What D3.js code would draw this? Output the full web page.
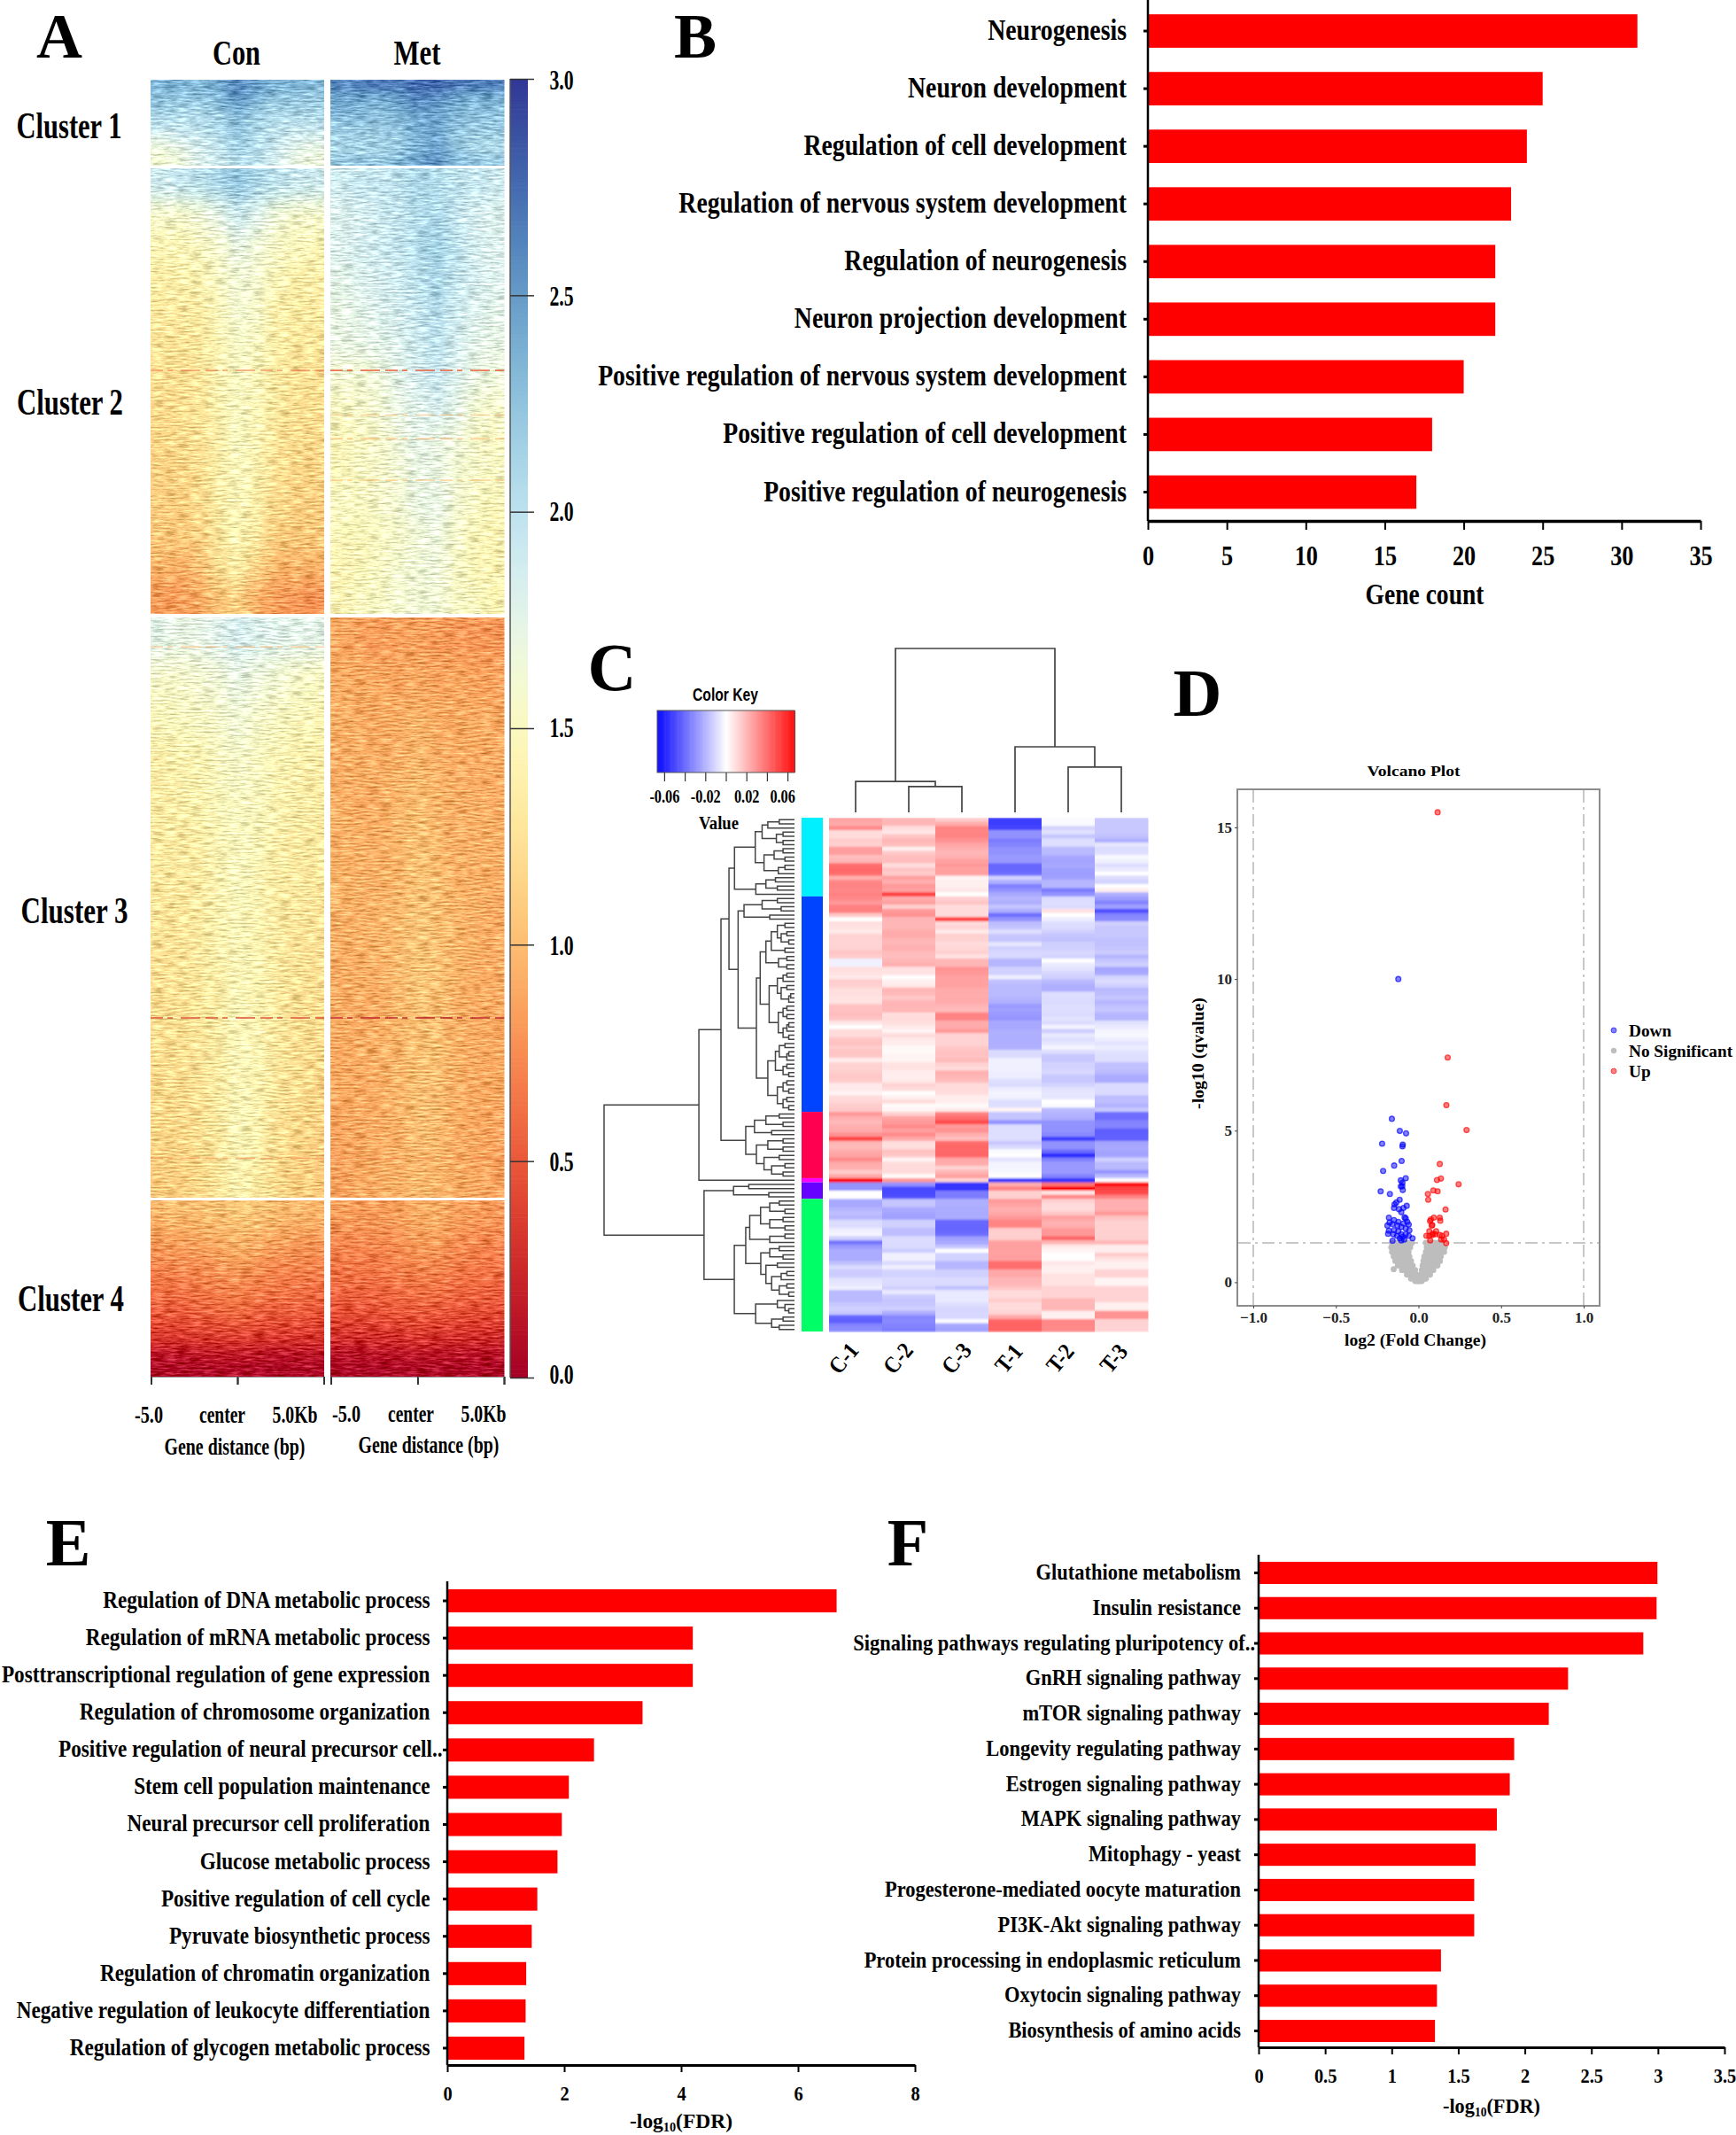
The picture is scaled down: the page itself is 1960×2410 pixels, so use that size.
<!DOCTYPE html>
<html><head><meta charset="utf-8">
<script src="https://cdn.jsdelivr.net/npm/d3@7"></script>
<style>html,body{margin:0;background:#fff}svg{display:block}</style></head>
<body><svg id="c" width="1960" height="2410" xmlns="http://www.w3.org/2000/svg"></svg>
<script>
// ---------- panel A values, read cluster by cluster (rows top to bottom, 9 bins across) ----------
const heatCon1=[[2.35,2.35,2.3,2.4,2.6,2.45,2.35,2.35,2.3],[2.25,2.25,2.25,2.3,2.55,2.4,2.25,2.25,2.2],[2.2,2.15,2.15,2.25,2.45,2.25,2.15,2.15,2.15],[2.05,2.05,2.05,2.1,2.3,2.15,2.05,2.05,2.05],[1.95,1.95,2,2.1,2.25,2.1,2,1.95,1.95],[1.75,1.85,1.9,2,2.2,2.05,1.95,1.85,1.8],[1.65,1.7,1.85,1.95,2.15,2.05,1.9,1.75,1.7],[1.6,1.65,1.8,1.9,2.05,2,1.85,1.7,1.65]];
const heatMet1=[[2.6,2.65,2.7,2.65,2.75,2.75,2.7,2.65,2.65],[2.45,2.45,2.45,2.5,2.65,2.6,2.45,2.4,2.4],[2.4,2.35,2.3,2.4,2.55,2.5,2.35,2.3,2.3],[2.3,2.3,2.25,2.3,2.45,2.45,2.3,2.25,2.25],[2.2,2.2,2.2,2.25,2.4,2.45,2.25,2.2,2.2],[2.15,2.15,2.15,2.2,2.35,2.45,2.2,2.15,2.1],[2.1,2.1,2.1,2.2,2.35,2.5,2.25,2.1,2.05],[2.2,2.25,2.2,2.3,2.45,2.55,2.3,2.25,2.2]];
const heatCon2=[[1.9,1.95,2,2.1,2.25,2.1,2,1.95,1.9],[1.55,1.55,1.6,1.72,1.9,1.78,1.62,1.55,1.55],[1.42,1.42,1.48,1.55,1.7,1.62,1.52,1.48,1.42],[1.35,1.35,1.4,1.5,1.62,1.58,1.45,1.35,1.35],[1.28,1.3,1.32,1.45,1.6,1.55,1.35,1.32,1.3],[1.25,1.24,1.28,1.4,1.55,1.5,1.35,1.28,1.28],[1.22,1.22,1.25,1.4,1.5,1.45,1.3,1.25,1.22],[1.18,1.2,1.24,1.38,1.5,1.45,1.3,1.22,1.2],[1.15,1.18,1.22,1.35,1.5,1.42,1.25,1.2,1.18],[1.12,1.14,1.2,1.34,1.48,1.4,1.22,1.15,1.14],[1.1,1.1,1.16,1.32,1.45,1.35,1.18,1.12,1.1],[1.06,1.06,1.1,1.28,1.42,1.3,1.1,1.08,1.06],[0.95,0.92,1,1.22,1.35,1.14,0.96,0.94,0.95],[0.82,0.82,0.88,1.02,1.12,0.92,0.82,0.8,0.78]];
const heatMet2=[[1.9,1.95,1.95,2,2.1,2.05,2,1.95,1.9],[1.8,1.85,1.9,1.95,2.05,2.1,1.95,1.85,1.8],[1.8,1.85,1.9,1.95,2.05,2.15,2,1.85,1.8],[1.75,1.8,1.85,1.9,2,2.1,1.95,1.85,1.8],[1.7,1.75,1.8,1.85,1.95,2.05,1.9,1.8,1.75],[1.7,1.72,1.75,1.8,1.9,2,1.85,1.75,1.72],[1.6,1.6,1.65,1.75,1.85,1.95,1.8,1.7,1.65],[1.5,1.55,1.6,1.7,1.78,1.85,1.75,1.6,1.55],[1.45,1.5,1.55,1.65,1.75,1.7,1.65,1.55,1.5],[1.45,1.5,1.55,1.6,1.7,1.7,1.6,1.55,1.5],[1.5,1.5,1.55,1.6,1.7,1.72,1.6,1.5,1.45],[1.45,1.45,1.5,1.55,1.62,1.68,1.55,1.45,1.42],[1.42,1.45,1.5,1.58,1.62,1.65,1.52,1.45,1.4],[1.42,1.48,1.52,1.58,1.62,1.62,1.52,1.48,1.42]];
const heatCon3=[[1.75,1.7,1.72,1.78,1.85,1.8,1.78,1.75,1.75],[1.55,1.55,1.58,1.62,1.7,1.65,1.6,1.55,1.5],[1.45,1.48,1.5,1.55,1.62,1.55,1.5,1.45,1.42],[1.35,1.38,1.4,1.48,1.55,1.5,1.42,1.38,1.35],[1.32,1.35,1.38,1.45,1.5,1.48,1.4,1.35,1.32],[1.3,1.3,1.32,1.42,1.48,1.45,1.36,1.3,1.3],[1.28,1.28,1.3,1.4,1.48,1.42,1.32,1.3,1.28],[1.25,1.25,1.3,1.38,1.45,1.4,1.32,1.25,1.25],[1.22,1.25,1.28,1.35,1.45,1.42,1.3,1.25,1.22],[1.2,1.22,1.26,1.32,1.45,1.4,1.3,1.22,1.2],[1.2,1.2,1.25,1.32,1.45,1.42,1.28,1.22,1.18],[1.18,1.18,1.22,1.3,1.45,1.4,1.25,1.2,1.15],[1.15,1.15,1.2,1.28,1.45,1.38,1.22,1.15,1.12],[1.08,1.1,1.15,1.25,1.4,1.32,1.18,1.1,1.08]];
const heatMet3=[[0.88,0.85,0.82,0.85,0.85,0.82,0.8,0.8,0.8],[0.9,0.88,0.88,0.86,0.88,0.85,0.88,0.85,0.85],[0.92,0.9,0.88,0.9,0.95,0.9,0.88,0.9,0.88],[0.9,0.92,0.9,0.92,0.98,0.92,0.9,0.9,0.9],[0.92,0.9,0.9,0.95,1,0.95,0.9,0.92,0.9],[0.92,0.92,0.92,0.95,1.02,0.98,0.92,0.92,0.92],[0.95,0.92,0.92,0.95,1.02,1,0.92,0.92,0.9],[0.92,0.92,0.95,0.98,1.05,1,0.95,0.92,0.9],[0.9,0.92,0.92,0.98,1.05,1.02,0.95,0.9,0.9],[0.9,0.9,0.9,0.95,1.02,1,0.92,0.9,0.88],[0.88,0.9,0.92,0.95,1,1.02,0.92,0.9,0.88],[0.88,0.88,0.9,0.95,1,1,0.92,0.88,0.88],[0.86,0.88,0.9,0.92,1,0.98,0.9,0.88,0.86],[0.85,0.88,0.9,0.92,0.98,0.95,0.9,0.88,0.85]];
const heatCon4=[[0.98,1,1,1.02,1.08,1.05,1,0.98,0.95],[0.92,0.94,0.95,0.98,1.02,1,0.95,0.92,0.9],[0.85,0.86,0.88,0.9,0.98,0.92,0.88,0.85,0.82],[0.78,0.8,0.82,0.85,0.92,0.85,0.8,0.78,0.76],[0.72,0.74,0.75,0.78,0.82,0.78,0.72,0.72,0.7],[0.65,0.66,0.7,0.72,0.75,0.7,0.68,0.65,0.65],[0.6,0.6,0.62,0.65,0.68,0.65,0.62,0.6,0.58],[0.52,0.52,0.55,0.58,0.6,0.55,0.52,0.52,0.5],[0.42,0.42,0.45,0.45,0.48,0.45,0.42,0.42,0.4],[0.32,0.3,0.32,0.34,0.34,0.32,0.3,0.3,0.3],[0.12,0.12,0.14,0.15,0.15,0.14,0.12,0.12,0.12],[0.05,0.05,0.05,0.06,0.06,0.05,0.05,0.05,0.05]];
const heatMet4=[[0.85,0.82,0.82,0.85,0.9,0.92,0.85,0.82,0.8],[0.8,0.8,0.8,0.82,0.88,0.9,0.82,0.8,0.78],[0.75,0.74,0.76,0.78,0.84,0.84,0.78,0.75,0.72],[0.7,0.7,0.7,0.74,0.78,0.78,0.72,0.7,0.68],[0.64,0.65,0.66,0.7,0.72,0.72,0.68,0.65,0.62],[0.6,0.6,0.6,0.64,0.66,0.66,0.62,0.6,0.58],[0.54,0.55,0.55,0.58,0.6,0.6,0.56,0.54,0.52],[0.46,0.46,0.48,0.5,0.52,0.5,0.48,0.46,0.44],[0.38,0.36,0.38,0.4,0.42,0.4,0.38,0.36,0.36],[0.26,0.25,0.26,0.28,0.3,0.28,0.26,0.25,0.24],[0.1,0.1,0.12,0.12,0.14,0.12,0.12,0.1,0.1],[0.04,0.04,0.04,0.05,0.05,0.05,0.04,0.04,0.04]];
// anomalous rows: [cluster index, sample index, row position, value]
const heatStreaks=[[1,0,6.35,0.6],[1,1,6.35,0.55],[1,1,7.75,0.95],[1,1,8.5,0.9],[1,1,9.8,1.0],[2,0,0.71,0.9],[2,1,0.71,0.65],[2,0,9.66,0.35],[2,1,9.66,0.1],[2,0,13.05,0.7],[2,1,13.05,0.65]];
const clusterNames=["Cluster 1","Cluster 2","Cluster 3","Cluster 4"];
const colorbarTicks=[0,0.5,1,1.5,2,2.5,3];

// ---------- panel B ----------
const bLabels=["Neurogenesis","Neuron development","Regulation of cell development","Regulation of nervous system development","Regulation of neurogenesis","Neuron projection development","Positive regulation of nervous system development","Positive regulation of cell development","Positive regulation of neurogenesis"];
const bValues=[31,25,24,23,22,22,20,18,17];

// ---------- panel C : rows in 0.01 units, one array per sample ----------
const sampleNames=["C-1","C-2","C-3","T-1","T-2","T-3"];
const heatC1=[2.5,2.3,3.2,1,1,1.4,1.3,2.7,2.7,1.8,2,4,4.2,4,2.2,3.3,3.4,3.3,3.5,3.2,2.8,3.5,3.5,1.5,0,0.9,0.8,0.6,1.2,1.2,1.2,1.2,1.6,1.4,-0.4,-0.4,0.9,0.8,0.6,1.4,1.3,0.9,0.9,0.8,0.8,1.7,1.7,1.8,1.6,0.7,0,1,1,1.6,1.7,1.4,1.6,1.5,0.5,1.2,1.2,1.4,
1.5,1.4,0.6,0.6,0.3,1,1.1,1.4,1.5,2.8,2.2,1.9,2.2,2.3,3,5.2,2,1.9,2.3,2.5,3.2,2.3,2.2,1.4,2.4,7,-3,-3,0,0,-2.4,-2.4,-2,-1.8,-2,-1,-1,-0.5,-0.3,-1.3,-3.8,-2.8,-2.3,-2.3,-2.3,-1.7,-1,-1.4,-1.4,-0.8,-0.7,-0.4,-1.9,-1.9,-1.9,-1.5,-1.3,-1.5,-4.2,-4.4,-3.4,-3.2];
const heatC2=[2,2,0.9,0.7,1.6,2,1.8,0.4,1.5,1.8,1.8,0.9,1.6,1.4,2.6,2.2,2.8,2.6,5.3,2.3,2.6,1.3,2.8,3,2,2,2,2.3,2.3,2,2,2.2,1.9,1.8,2,2.2,0.8,0.8,0,0.4,0.6,2,1.9,1.5,2,2,2,0.9,1,0.9,0.6,0.3,1,0.6,0.5,0.2,0.2,0.3,0.3,0.8,0.8,0.5,
0.5,0.6,1.2,1,0,0.4,1,0.1,0.3,1.3,2.5,2.8,3.2,2.6,3.2,2.4,0.9,0.9,1.7,1.5,0.3,1,1,1,0.1,2.8,-3,-5,-5,-4.8,-1.6,-1.6,-2.4,-2.5,-2.6,-1.3,-1.3,-1.8,-1.8,-1,-1,-1,-1.4,-0.4,-0.4,-1,-0.4,-1.2,-1.2,-1,-1,-1.3,-0.6,-1.4,-1.6,-1.5,-1.3,-2.2,-3.3,-3.2,-3.4,-3.6];
const heatC3=[1.4,2.3,3.4,3.4,3.4,3,2.5,2.2,2,2.2,2.6,2.8,2.6,2.6,0.3,0.4,0.4,0.7,0,1.3,1.6,1,1,1,5.3,1,1.2,0.6,1.3,1.2,1,1.1,1.3,0.8,2,2,3,2.8,2.6,2.6,2.6,2.3,2.3,2.3,2.3,2,1.9,3.4,3.4,2.3,2.3,2.8,1.2,1.2,1.2,1.5,1.7,1.7,1.9,1.3,1,2.2,
2,1.8,1,1,0.9,0.5,0.5,0.1,0.6,3.5,4,5,2.8,3,2.2,1.8,4,4.2,4.2,4.2,2.4,2.3,1.2,2,2.6,1.2,-5.6,-5.6,-3.6,-3.6,-2.2,-2.2,-2.3,-2.3,-2.3,-4.2,-4.2,-4.2,-4,-2.6,-2.4,-1.6,0,-1.2,-1.2,-2,-2,-1.3,-1.3,-1,-1,-1.7,-0.6,-0.6,-0.6,-0.9,-1.1,-1.1,-1.1,-0.1,-2.4,-2.6];
const heatT1=[-5.3,-5.3,-5.2,-3,-3,-3.6,-3.4,-3,-3,-2.8,-2.8,-4.2,-4.2,-4,-1.2,-2.2,-3.5,-3,-2.4,-2,-2.2,-1.6,-2.2,-4,-3,-1.8,-1.6,-0.9,-1.5,-1.6,-0.7,-1.3,-1.1,-1.1,-2,-2,-1.3,-1.3,-0.4,-1.7,-1.9,-1.9,-1.9,-2,-2.2,-2.8,-2.6,-2.8,-2.9,-2.4,-2.4,-2.2,-2.2,-2.2,-2.2,-2.2,-1,-1,-0.4,-0.4,-0.4,-0.5,
-0.5,-0.9,-1,-0.5,-0.3,-0.4,-0.9,-0.9,0.3,-1.6,-1.6,-3,-0.9,-0.9,-0.9,-0.9,-1.5,-1,-0.1,0,-0.8,-0.3,-0.3,-0.2,0,-5.5,2.2,3.4,1.3,1.3,2.8,2.5,2.2,2.4,2.8,3.4,3.4,1.4,1.3,1.4,2.6,2.6,2.6,2.6,2.6,4,4,2.4,2.4,2,2,1.6,1,1,1.4,1,1,1.2,2.4,4.2,4.3,4.3];
const heatT2=[-0.1,-0.1,-1.2,-0.8,-1.6,-0.9,-0.9,-1.9,-1.9,-2.4,-2.5,-2.4,-2.6,-2.7,-2.6,-2,-2,-3.6,-3,-1,-0.9,-1,0.8,0,-0.5,-0.9,-1,-1.3,-1.6,-1.7,-1.3,-1.3,-1.1,-1.2,0,-0.6,-0.8,-1.1,-1.3,-1.9,-2.2,-2.2,-0.9,-1,-1,-0.9,-0.9,-1,-0.8,-1,-0.3,-1.4,-0.6,-0.9,-0.7,-0.3,-0.9,-1.5,-1.5,-1.2,-1.2,-1.1,
-1.5,-1.5,-1.2,-0.8,-0.7,-0.7,0,-0.1,-1.9,-2.1,-2.2,-3,-3,-3,-3.2,-5.4,-3,-3,-4,-5.8,-3.5,-2.8,-2.8,-2.8,-3.4,-5.6,3.8,7,0.7,3.3,1.3,1,1,1.5,2.6,2.2,2.2,2.8,2.8,4.2,2,0.6,0.3,0,0,0.7,0.4,0.4,0.8,0.8,0.8,1.2,1.2,1.2,2,2,2,0.4,0.4,3.3,3.3,3.3];
const heatT3=[-1.5,-1.5,-1.5,-1.5,-1.7,-2.2,-0.7,-1,-0.9,-0.2,-0.4,-0.9,-0.6,0,-1,-1.2,0,0.5,-2.2,-2.7,-3.4,-2.6,-4.8,-3.4,-3.2,-1.3,-1.5,-1.5,-1.5,-1.7,-1.7,-1.6,-1.4,-2,-1.6,-1.3,-2.5,-2.4,-1.2,-1,-1.3,-1.9,-1.8,-1.6,-2,-1.7,-1.6,-2,-2,-0.8,-0.6,-0.3,-0.2,-0.5,-0.8,-0.5,-0.8,-0.9,-0.9,-1.7,-1.7,-1.9,
-2.3,-2.3,-1,-1,-1,-1.8,-1.8,-2.1,-1.5,-4,-4,-3.4,-3.4,-4.4,-4.4,-4.4,-2.5,-2.4,-2.5,-2.5,-1.3,-1.9,-1.9,-2.9,-1.9,0,7,5.2,5,3.4,2.2,2.2,2.2,2.8,1.7,1.3,1.3,1.3,1.3,1.3,2,0.5,0.5,1.4,0.8,0.4,0.4,1.2,1.2,0.3,0.3,1.2,1.2,1.2,1.2,0.4,0.4,3,3,1.2,1.2,1.2];
const sideColors=["#00f0ff","#0044ff","#ff0050","#ff00ff","#6600ff","#00ff66"];
const sideCounts=[19,52,16,1,4,32];
// sample dendrogram: [height, left, right], 0 = leaf
const colTree=[100,[18.9,0,[15.7,0,0]],[40,0,[27.6,0,0]]];
// row dendrogram, same notation
const rowTree=[100,
 [50.2,
  [38.6,
   [34.4,
    [31.5,
     [20.6,
      [17,[14,[8,0,0],0],[9.5,[6,0,0],[6,0,0]]],
      [16,[10.7,[6,0,0],[5,0,0]],[8.5,[5,0,0],0]]],
     [20.3,[15,[10,0,0],[9,0,0]],0]],
    [29.6,
     [26.5,[17,[9,0,0],[7,0,0]],[13,0,0]],
     [20,
      [18,
       [15,[12.2,[9,[5,0,0],[7,[4,0,0],[3,0,0]]],[5,0,0]],[8.4,[4,0,0],[4,0,0]]],
       [13.3,[9,[6,[4,0,0],0],[7,[4,0,0],[3,[2,0,0],0]]],[8.5,[6,[4,0,0],[4,0,0]],[6,[4,[3,0,0],0],[3,0,0]]]]],
      [14,[10,[8,[5,0,0],[4,[3,0,0],0]],[6,[4,0,0],[3,0,0]]],[9,[6,[4,0,0],[3,0,0]],[6,[4,0,0],[3,0,0]]]]]]],
   [25.6,[21,[15,[8,0,0],[6,0,0]],[12,0,0]],[20,[14,[6,0,0],[6,0,0]],[16,[8,0,0],[12,[5,0,0],[6,0,0]]]]]],
  0],
 [47.5,
  [32,[24,0,0],[13.5,0,0]],
  [31.6,
   [25.6,
    [23.5,[17.8,[13,[8,0,0],[5,0,0]],[13,[6,0,0],[5,0,0]]],[13,[5,0,0],0]],
    [17.7,[13,[8,0,0],[6,0,0]],[15,[9,0,0],[12,[7,[4,0,0],0],[8,[4,0,0],[3,0,0]]]]]],
   [20.4,[9,0,[5,0,[3,0,0]]],[12,[6,0,0],[8,0,0]]]]]];

// ---------- panel D : [log2FC, -log10 q] ----------
const volcanoDown=[[-0.122,10],[-0.161,5.39],[-0.113,4.99],[-0.075,4.91],[-0.22,4.57],[-0.095,4.54],[-0.097,4.48],[-0.102,4],[-0.147,3.85],[-0.214,3.67],[-0.077,3.43],[-0.107,3.36],[-0.097,3.28],[-0.107,3.16],[-0.098,3.17],[-0.095,3.04],[-0.229,3],[-0.173,2.91],[-0.114,2.72],[-0.134,2.63],[-0.145,2.57],[-0.148,2.45],[-0.071,2.52],[-0.091,2.45],[-0.118,2.41],[-0.104,2.31],[-0.179,2.13],[-0.084,2.14],[-0.077,2.11],[-0.148,2.05],[-0.122,1.99],[-0.175,1.97],[-0.068,1.99],[-0.091,1.94],[-0.188,1.87],[-0.157,1.92],[-0.127,1.87],[-0.104,1.82],[-0.059,1.9],[-0.077,1.77],[-0.179,1.7],[-0.148,1.72],[-0.122,1.68],[-0.055,1.71],[-0.184,1.6],[-0.152,1.58],[-0.104,1.58],[-0.077,1.58],[-0.13,1.53],[-0.095,1.5],[-0.059,1.53],[-0.036,1.45],[-0.113,1.45],[-0.086,1.41],[-0.157,1.37],[-0.104,1.38]];
const volcanoUp=[[0.116,15.5],[0.177,7.41],[0.169,5.84],[0.291,5.02],[0.129,3.9],[0.136,3.42],[0.112,3.37],[0.243,3.23],[0.09,3.03],[0.116,3],[0.057,2.91],[0.059,2.72],[0.164,2.4],[0.093,2.13],[0.075,2.07],[0.129,2.13],[0.132,2.03],[0.07,2.02],[0.084,1.89],[0.08,1.87],[0.066,1.68],[0.107,1.68],[0.088,1.6],[0.066,1.53],[0.168,1.6],[0.129,1.56],[0.102,1.58],[0.048,1.53],[0.084,1.56],[0.143,1.53],[0.155,1.41],[0.071,1.38],[0.138,1.41],[0.168,1.29]];
const volcanoNone=[[-0.16,1.3],[-0.14,1.3],[-0.12,1.3],[-0.1,1.3],[-0.08,1.3],[-0.06,1.3],[-0.04,1.3],[0.045,1.3],[0.06,1.3],[0.08,1.3],[0.1,1.3],[0.12,1.3],[0.14,1.3],
[-0.165,1.15],[-0.145,1.15],[-0.125,1.15],[-0.105,1.15],[-0.085,1.15],[-0.065,1.15],[-0.05,1.15],[0.05,1.15],[0.07,1.15],[0.09,1.15],[0.11,1.15],[0.13,1.15],[0.15,1.15],[0.16,1.15],
[-0.16,1],[-0.14,1],[-0.12,1],[-0.1,1],[-0.08,1],[-0.06,1],[0.045,1],[0.06,1],[0.08,1],[0.1,1],[0.12,1],[0.14,1],[0.155,1],
[-0.15,0.85],[-0.13,0.85],[-0.11,0.85],[-0.09,0.85],[-0.07,0.85],[-0.055,0.85],[0.035,0.85],[0.055,0.85],[0.075,0.85],[0.095,0.85],[0.115,0.85],[0.135,0.85],
[-0.14,0.7],[-0.12,0.7],[-0.1,0.7],[-0.08,0.7],[-0.06,0.7],[-0.045,0.7],[0.03,0.7],[0.05,0.7],[0.07,0.7],[0.09,0.7],[0.11,0.7],[0.13,0.7],
[-0.125,0.55],[-0.105,0.55],[-0.085,0.55],[-0.065,0.55],[-0.045,0.55],[-0.035,0.55],[0.025,0.55],[0.04,0.55],[0.06,0.55],[0.08,0.55],[0.1,0.55],[0.115,0.55],
[-0.1,0.4],[-0.085,0.4],[-0.065,0.4],[-0.05,0.4],[-0.03,0.4],[-0.02,0.4],[0.02,0.4],[0.035,0.4],[0.05,0.4],[0.07,0.4],[0.09,0.4],
[-0.07,0.25],[-0.055,0.25],[-0.04,0.25],[-0.025,0.25],[-0.015,0.25],[0.012,0.25],[0.03,0.25],[0.045,0.25],[0.06,0.25],[0.07,0.25],
[-0.045,0.12],[-0.03,0.12],[-0.015,0.12],[-0.005,0.12],[0.005,0.12],[0.02,0.12],[0.035,0.12],[0.045,0.12],
[-0.02,0.04],[-0.01,0.04],[0,0.04],[0.01,0.04],[0.02,0.04],[-0.15,0.43]];

// ---------- panel E ----------
const eLabels=["Regulation of DNA metabolic process","Regulation of mRNA metabolic process","Posttranscriptional regulation of gene expression","Regulation of chromosome organization","Positive regulation of neural precursor cell..","Stem cell population maintenance","Neural precursor cell proliferation","Glucose metabolic process","Positive regulation of cell cycle","Pyruvate biosynthetic process","Regulation of chromatin organization","Negative regulation of leukocyte differentiation","Regulation of glycogen metabolic process"];
const eValues=[6.66,4.2,4.2,3.34,2.51,2.08,1.96,1.885,1.54,1.445,1.35,1.34,1.32];

// ---------- panel F ----------
const fLabels=["Glutathione metabolism","Insulin resistance","Signaling pathways regulating pluripotency of..","GnRH signaling pathway","mTOR signaling pathway","Longevity regulating pathway","Estrogen signaling pathway","MAPK signaling pathway","Mitophagy - yeast","Progesterone-mediated oocyte maturation","PI3K-Akt signaling pathway","Protein processing in endoplasmic reticulum","Oxytocin signaling pathway","Biosynthesis of amino acids"];
const fValues=[2.996,2.99,2.89,2.325,2.18,1.92,1.887,1.79,1.63,1.62,1.62,1.37,1.34,1.325];

// ================= drawing =================
const svg=d3.select("#c");
const defs=svg.append("defs");
const SERIF="'Liberation Serif','Times New Roman',serif";
function T(parent,x,y,str,o={}){
  const t=parent.append("text").attr("font-family",o.family||SERIF).attr("font-weight",o.weight||"bold")
    .attr("font-size",o.size||24).attr("text-anchor",o.anchor||"middle").attr("dy",o.dy===undefined?"0.35em":o.dy).attr("fill","#000").text(str);
  let sx=o.sx||1;
  if(o.w) sx=o.w/t.node().getComputedTextLength();
  t.attr("transform",`translate(${x},${y})`+(o.rot?` rotate(${o.rot})`:"")+` scale(${sx},1)`);
  return t;
}
function logFDR(parent,cx,cy,w){
  const t=parent.append("text").attr("font-family",SERIF).attr("font-weight","bold").attr("font-size",23).attr("text-anchor","middle").attr("dy","0.3em");
  t.append("tspan").text("-log");
  t.append("tspan").attr("font-size",14).attr("dy",4).text("10");
  t.append("tspan").attr("dy",-4).text("(FDR)");
  t.attr("transform",`translate(${cx},${cy}) scale(${w/t.node().getComputedTextLength()},1)`);
}
// panel letters
[["A",67,64.5,72],["B",785,64.5,72],["C",691,779,76],["D",1352,808,76],["E",77,1767,76],["F",1025,1767,76]].forEach(l=>{
  T(svg,l[1],l[2],l[0],{size:l[3],dy:0});
});

// ---------- A ----------
const gA=svg.append("g");
const aColor=d3.scaleSequential(t=>d3.interpolateRdYlBu(t)).domain([0,3]);
const sampleX=[[170,366],[373,569.5]];
const clusterY=[[90,187,5],[190,693,12],[697,1352,14],[1355,1554,6]];
const heatA=[[heatCon1,heatMet1],[heatCon2,heatMet2],[heatCon3,heatMet3],[heatCon4,heatMet4]];
heatA.forEach((pair,ci)=>{
  const [y0,y1,sy]=clusterY[ci];
  const fid="grain"+ci;
  const f=defs.append("filter").attr("id",fid).attr("x",0).attr("y",0).attr("width",1).attr("height",1).attr("color-interpolation-filters","sRGB");
  f.append("feGaussianBlur").attr("in","SourceGraphic").attr("stdDeviation",`8 ${sy}`).attr("result","b");
  f.append("feTurbulence").attr("type","fractalNoise").attr("baseFrequency","0.07 0.5").attr("numOctaves",3).attr("seed",3+ci).attr("result","n");
  f.append("feColorMatrix").attr("in","n").attr("type","matrix").attr("values","1 0 0 0 0 1 0 0 0 0 1 0 0 0 0 0 0 0 0 1").attr("result","g");
  f.append("feComposite").attr("in","b").attr("in2","g").attr("operator","arithmetic").attr("k1",0).attr("k2",1).attr("k3",0.62).attr("k4",-0.31);
  pair.forEach((rows,si)=>{
    const [x0,x1]=sampleX[si];
    const xb=d3.scaleBand().domain(d3.range(9)).range([x0,x1]);
    const yb=d3.scaleBand().domain(d3.range(rows.length)).range([y0,y1]);
    const cid=`clip${ci}_${si}`;
    defs.append("clipPath").attr("id",cid).append("rect").attr("x",x0).attr("y",y0).attr("width",x1-x0).attr("height",y1-y0);
    const clip=gA.append("g").attr("clip-path",`url(#${cid})`);
    const inner=clip.append("g").attr("filter",`url(#${fid})`);
    const pad=45;
    rows.forEach((r,ri)=>r.forEach((v,k)=>{
      const ax=xb(k)-(k===0?pad:0), aw=xb.bandwidth()+(k===0||k===8?pad:0)+0.5;
      const ay=yb(ri)-(ri===0?pad:0), ah=yb.bandwidth()+(ri===0||ri===rows.length-1?pad:0)+0.5;
      inner.append("rect").attr("x",ax).attr("y",ay).attr("width",aw).attr("height",ah).attr("fill",aColor(v));
    }));
    const ys=d3.scaleLinear().domain([0,rows.length]).range([y0,y1]);
    heatStreaks.filter(s=>s[0]===ci&&s[1]===si).forEach(s=>{
      clip.append("line").attr("x1",x0).attr("x2",x1).attr("y1",ys(s[2])).attr("y2",ys(s[2])).attr("stroke",aColor(s[3])).attr("stroke-width",1.6).attr("opacity",s[3]<0.6?.85:.55).attr("stroke-dasharray","14 5 6 9 22 6");
    });
    // ticks beneath
    const xt=d3.scaleLinear().domain([-5,5]).range([x0+0.5,x1-0.5]);
    const ax=gA.append("g").attr("transform",`translate(0,1554)`).call(d3.axisBottom(xt).tickValues([-5,0,5]).tickSize(9).tickSizeOuter(0).tickFormat(""));
    ax.select(".domain").attr("stroke","#999").attr("stroke-width",1);
    ax.selectAll("line").attr("stroke","#333").attr("stroke-width",1.5);
  });
});
clusterNames.forEach((n,i)=>T(gA,[78,79,84,80][i],[141,453,1027,1465][i],n,{size:42,w:[119,120,121,120][i]}));
T(gA,267,59,"Con",{size:40,w:54});T(gA,471,59,"Met",{size:40,w:53});
[[168,"-5.0",32],[251,"center",52],[333,"5.0Kb",51],[391,"-5.0",32],[464,"center",52],[546,"5.0Kb",51]].forEach(d=>T(gA,d[0],d[0]<360?1597:1596,d[1],{size:27,w:d[2]}));
T(gA,265,1633,"Gene distance (bp)",{size:27,w:159});T(gA,484,1631,"Gene distance (bp)",{size:27,w:159});
// colour bar
const cbY=d3.scaleLinear().domain([0,3]).range([1555,89]);
gA.append("g").selectAll("rect").data(d3.range(0,3,0.01)).join("rect").attr("x",576).attr("width",20).attr("y",d=>cbY(d+0.01)).attr("height",d=>cbY(d)-cbY(d+0.01)+0.6).attr("fill",d=>aColor(d));
gA.append("line").attr("x1",576).attr("x2",576).attr("y1",89).attr("y2",1555).attr("stroke","#555").attr("stroke-width",1.5);
const cbAx=gA.append("g").attr("transform","translate(596,0)").call(d3.axisRight(cbY).tickValues(colorbarTicks).tickSize(7).tickSizeOuter(0).tickFormat(d3.format(".1f")));
cbAx.select(".domain").remove();
cbAx.selectAll("line").attr("stroke","#333").attr("stroke-width",1.5);
cbAx.selectAll("line").attr("x1",-20);
cbAx.selectAll("text").attr("x",0).attr("font-family",SERIF).attr("font-weight","bold").attr("font-size",32).attr("fill","#000").attr("text-anchor","middle").attr("dy","0.35em")
  .attr("transform",d=>`translate(38,${d===0?-5:d===1.5||d===2?-1.5:0}) scale(.68,1)`);

// ---------- bar panels ----------
function barPanel(labels,values,o){
  const g=svg.append("g");
  const x=d3.scaleLinear().domain([0,o.max]).range([o.x0,o.x1]);
  const y=d3.scaleBand().domain(labels).range(o.yr).paddingInner(o.pi).paddingOuter(o.po);
  g.selectAll("rect").data(labels).join("rect").attr("x",x(0)).attr("y",d=>y(d)).attr("height",y.bandwidth()).attr("width",(d,i)=>x(values[i])-x(0)).attr("fill","#ff0000");
  const bot=g.append("g").attr("transform",`translate(0,${o.axisY})`).call(d3.axisBottom(x).tickValues(o.ticks).tickSize(o.tl).tickSizeOuter(0).tickPadding(o.tp).tickFormat(d=>d));
  bot.select(".domain").attr("stroke","#000").attr("stroke-width",o.axW);
  bot.selectAll("line").attr("stroke","#000").attr("stroke-width",2);
  bot.selectAll("text").attr("font-family",SERIF).attr("font-weight","bold").attr("font-size",o.tickSize).attr("fill","#000").attr("transform",`scale(${o.tickSx},1)`);
  const left=g.append("g").attr("transform",`translate(${o.x0},0)`).call(d3.axisLeft(y).tickSize(5).tickSizeOuter(0).tickFormat(""));
  left.select(".domain").attr("stroke","#000").attr("stroke-width",2.5).attr("d",`M0,${o.top}V${o.axisY}`);
  left.selectAll("line").attr("stroke","#000").attr("stroke-width",3);
  // category labels: common horizontal squeeze taken from the longest label's width
  const probe=T(g,0,0,o.longest,{size:o.labSize});
  const sx=o.longW/probe.node().getComputedTextLength();probe.remove();
  labels.forEach(l=>T(g,o.labR+(l.endsWith("..")?o.over:0),y(l)+y.bandwidth()/2-1.5,l,{size:o.labSize,anchor:"end",sx}));
  return g;
}
barPanel(bLabels,bValues,{max:35,x0:1296,x1:1920,yr:[2.5,588],pi:.42,po:.21,axisY:588,top:0,ticks:d3.range(0,36,5),tl:10,tp:17,axW:3.5,tickSize:32,tickSx:.82,longest:bLabels[6],longW:597,labSize:33,labR:1272,over:0});
T(svg,1608.5,670,"Gene count",{size:33,w:134});
barPanel(eLabels,eValues,{max:8,x0:505,x1:1033,yr:[1786,2333],pi:.38,po:.19,axisY:2331,top:1785,ticks:[0,2,4,6,8],tl:8,tp:15,axW:3,tickSize:24,tickSx:.85,longest:eLabels[2],longW:484,labSize:27,labR:485.5,over:14});
logFDR(svg,769,2395,116);
barPanel(fLabels,fValues,{max:3.5,x0:1421,x1:1947,yr:[1755.6,2312.4],pi:.37,po:.185,axisY:2311,top:1755,ticks:d3.range(0,3.6,.5),tl:8,tp:15,axW:3,tickSize:24,tickSx:.85,longest:fLabels[2],longW:454,labSize:26,labR:1401,over:16});
logFDR(svg,1684,2378,110);

// ---------- C ----------
const gC=svg.append("g");
const cColor=d3.scaleLinear().domain([-7,0,7]).range(["#0000ff","#ffffff","#ff0000"]);
const heatCols=[heatC1,heatC2,heatC3,heatT1,heatT2,heatT3];
const nRows=heatC1.length;
const colX=d3.scaleBand().domain(sampleNames).range([936,1296]);
const rowY=d3.scaleBand().domain(d3.range(nRows)).range([923,1503]);
const soft=defs.append("filter").attr("id","soft").attr("x",0).attr("y",0).attr("width",1).attr("height",1);
soft.append("feGaussianBlur").attr("stdDeviation","0.5 0.9");
const gCells=gC.append("g").attr("filter","url(#soft)");
heatCols.forEach((col,ci)=>{
  gCells.append("g").selectAll("rect").data(col).join("rect").attr("x",colX(sampleNames[ci])).attr("width",colX.bandwidth()+0.5)
    .attr("y",(d,i)=>rowY(i)).attr("height",rowY.bandwidth()+0.5).attr("fill",d=>cColor(d));
});
// side colour bar
let acc=0;
sideCounts.forEach((n,i)=>{
  gC.append("rect").attr("x",905).attr("width",24).attr("y",rowY(acc)).attr("height",n*rowY.step()).attr("fill",sideColors[i]);
  acc+=n;
});
// sample dendrogram
const ctY=d3.scaleLinear().domain([0,100]).range([917,732]);
const ct=d3.hierarchy(colTree,d=>Array.isArray(d)?d.slice(1):null);
ct.leaves().forEach((l,i)=>{l.pos=colX(sampleNames[i])+colX.bandwidth()/2;});
ct.eachAfter(n=>{n.hh=Array.isArray(n.data)?n.data[0]:0;if(n.children)n.pos=d3.mean(n.children,c=>c.pos);});
gC.append("g").selectAll("path").data(ct.descendants().filter(n=>n.children)).join("path")
 .attr("d",n=>{const[a,b]=n.children;return `M${a.pos},${ctY(a.hh)}V${ctY(n.hh)}H${b.pos}V${ctY(b.hh)}`;})
 .attr("fill","none").attr("stroke","#444").attr("stroke-width",1.7);
// row dendrogram
const rtX=d3.scaleLinear().domain([0,100]).range([897,682]);
const rt=d3.hierarchy(rowTree,d=>Array.isArray(d)?d.slice(1):null);
rt.leaves().forEach((l,i)=>{l.pos=rowY(i)+rowY.bandwidth()/2;});
rt.eachAfter(n=>{n.hh=Array.isArray(n.data)?n.data[0]:0;if(n.children)n.pos=d3.mean(n.children,c=>c.pos);});
gC.append("g").selectAll("path").data(rt.descendants().filter(n=>n.children)).join("path")
 .attr("d",n=>{const[a,b]=n.children;return `M${rtX(a.hh)},${a.pos}H${rtX(n.hh)}V${b.pos}H${rtX(b.hh)}`;})
 .attr("fill","none").attr("stroke","#444").attr("stroke-width",1.5);
// colour key
const keyX=d3.scaleLinear().domain([-0.0668,0.0668]).range([742,897]);
gC.append("g").selectAll("rect").data(d3.range(-0.0668,0.0668,0.001)).join("rect").attr("x",d=>keyX(d)).attr("width",keyX(0.001)-keyX(0)+.6).attr("y",802).attr("height",70).attr("fill",d=>cColor(d*100));
gC.append("rect").attr("x",742).attr("y",802).attr("width",155).attr("height",70).attr("fill","none").attr("stroke","#555").attr("stroke-width",1);
const keyAx=gC.append("g").attr("transform","translate(0,872)").call(d3.axisBottom(keyX).tickValues([-0.06,-0.04,-0.02,0,0.02,0.04,0.06]).tickSize(10).tickSizeOuter(0).tickPadding(8).tickFormat(d=>[-0.06,-0.02,0.02,0.06].includes(d)?d3.format(".2f")(d).replace("\u2212","-"):""));
keyAx.select(".domain").remove();
keyAx.selectAll("line").attr("stroke","#333").attr("stroke-width",1.2);
keyAx.selectAll("text").attr("font-family",SERIF).attr("font-weight","bold").attr("font-size",22).attr("fill","#000").attr("transform",d=>`translate(${d===0.06?-6:0},0) scale(.74,1)`);
T(gC,819,784,"Color Key",{size:20,w:74,family:"'Liberation Sans',Arial,sans-serif"});
T(gC,811.5,928,"Value",{size:22,w:45});
const labelXs=[952,1013.5,1079.5,1138.5,1196.5,1257];
sampleNames.forEach((s,i)=>T(gC,labelXs[i],1533,s,{size:26,sx:.9,rot:-50}));

// ---------- D ----------
const gD=svg.append("g");
const vx=d3.scaleLinear().domain([-1,1]).range([1415,1788]);
const vy=d3.scaleLinear().domain([0,15]).range([1447.4,934]);
gD.append("rect").attr("x",1397).attr("y",891).attr("width",409).attr("height",583).attr("fill","none").attr("stroke","#8c8c8c").attr("stroke-width",2);
const dash="14 5 3 5";
[-1,1].forEach(v=>gD.append("line").attr("x1",vx(v)).attr("x2",vx(v)).attr("y1",892).attr("y2",1473).attr("stroke","#c8c8c8").attr("stroke-width",2).attr("stroke-dasharray",dash));
gD.append("line").attr("x1",1398).attr("x2",1805).attr("y1",vy(1.3)).attr("y2",vy(1.3)).attr("stroke","#c8c8c8").attr("stroke-width",2).attr("stroke-dasharray",dash);
gD.append("g").selectAll("circle").data(volcanoNone).join("circle").attr("cx",d=>vx(d[0])).attr("cy",d=>vy(d[1])).attr("r",3.4).attr("fill","#bdbdbd");
[[volcanoDown,"#0000ff"],[volcanoUp,"#ff0000"]].forEach(([pts,c])=>{
  gD.append("g").selectAll("circle").data(pts).join("circle").attr("cx",d=>vx(d[0])).attr("cy",d=>vy(d[1])).attr("r",2.9)
    .attr("fill",c).attr("fill-opacity",.5).attr("stroke",c).attr("stroke-opacity",.65).attr("stroke-width",1.3);
});
const vAxB=gD.append("g").attr("transform","translate(0,1474)").call(d3.axisBottom(vx).tickValues([-1,-.5,0,.5,1]).tickSize(3).tickPadding(4).tickSizeOuter(0).tickFormat(d3.format(".1f")));
const vAxL=gD.append("g").attr("transform","translate(1397,0)").call(d3.axisLeft(vy).tickValues([0,5,10,15]).tickSize(3).tickPadding(3).tickSizeOuter(0));
[vAxB,vAxL].forEach(a=>{a.select(".domain").remove();a.selectAll("line").attr("stroke","#444");a.selectAll("text").attr("font-family",SERIF).attr("font-weight","bold").attr("font-size",17).attr("fill","#222");});
T(gD,1596,870,"Volcano Plot",{size:17,w:105});
T(gD,1598,1513,"log2 (Fold Change)",{size:18,w:160});
T(gD,1353,1189,"-log10 (qvalue)",{size:18,rot:-90,w:126});
[["Down","#0000ff",1164],["No Significant","#bdbdbd",1187],["Up","#ff0000",1210]].forEach(d=>{
  gD.append("circle").attr("cx",1822).attr("cy",d[2]-1).attr("r",3).attr("fill",d[1]).attr("fill-opacity",d[1]==="#bdbdbd"?1:.5).attr("stroke",d[1]).attr("stroke-opacity",.6);
  T(gD,1839,d[2],d[0],{size:18,anchor:"start",sx:1.07});
});
</script></body></html>
